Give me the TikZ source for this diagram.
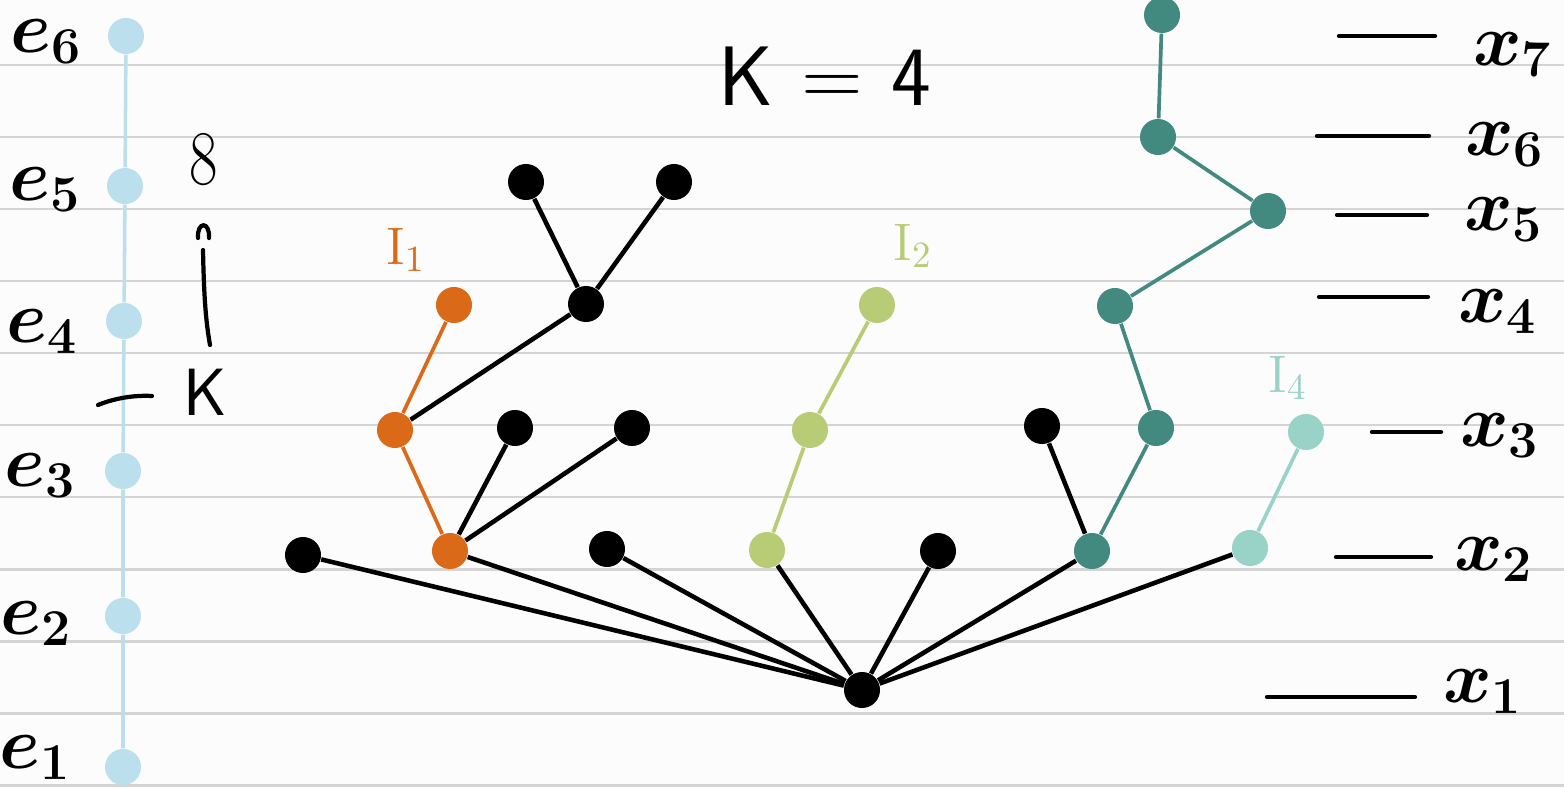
\RequirePackage{fix-cm}
\documentclass[tikz,border=0pt]{standalone}
\begin{document}
\definecolor{paper}{HTML}{FCFCFC}
\definecolor{ruleline}{HTML}{D4D4D4}
\definecolor{lightblue}{HTML}{BCDFEE}
\definecolor{ochre}{HTML}{DA6A18}
\definecolor{leaf}{HTML}{B8CB75}
\definecolor{teal}{HTML}{428A80}
\definecolor{mint}{HTML}{99D2C7}
\begin{tikzpicture}[x=0.01cm,y=-0.01cm,
  rulestroke/.style={ruleline,line width=0.85pt},
  dot/.style={circle,inner sep=0pt,minimum size=0.36cm},
  bdot/.style={dot,fill=black},
  edot/.style={dot,fill=lightblue},
  odot/.style={dot,fill=ochre},
  gdot/.style={dot,fill=leaf},
  tdot/.style={dot,fill=teal},
  mdot/.style={dot,fill=mint},
  blk/.style={black,line width=1.3pt},
  colored/.style={line width=1.05pt},
  ink/.style={black,line width=1.2pt,line cap=round},
  lbl/.style={inner sep=0pt,font=\fontsize{21}{25}\selectfont\boldmath},
  ilbl/.style={inner sep=0pt,font=\fontsize{15}{18}\selectfont}]
% paper and ruled lines
\fill[paper] (0,0) rectangle (1564,788);
\useasboundingbox (0,0) rectangle (1564,788);
\foreach \y in {65,137,...,785} \draw[rulestroke] (0,\y) -- (1564,\y);

% ladder of e-nodes
\node[edot] (e6) at (126,36) {};
\node[edot] (e5) at (125,186) {};
\node[edot] (e4) at (124,321) {};
\node[edot] (e3) at (123,471) {};
\node[edot] (e2) at (123,616) {};
\node[edot] (e1) at (123,767) {};
\draw[lightblue,line width=1pt] (e6) -- (e5) -- (e4) -- (e3) -- (e2) -- (e1);
\node[lbl] (le6) at (46,42) {$e_6$};
\node[lbl] (le5) at (45,190) {$e_5$};
\node[lbl] (le4) at (42,332) {$e_4$};
\node[lbl] (le3) at (40,476) {$e_3$};
\node[lbl] (le2) at (36,624) {$e_2$};
\node[lbl] (le1) at (35,758) {$e_1$};

% side notes
\node[inner sep=0pt,font=\fontsize{22}{26}\selectfont,xscale=0.8] (eight) at (204,160) {8};
\draw[ink] (198,238) .. controls (197,221) and (210,221) .. (209,238);
\draw[ink] (203,250) .. controls (204,300) and (206,322) .. (210,345);
\draw[ink] (98,405) .. controls (115,398) and (135,395) .. (152,396);
\node[inner sep=0pt,font=\sffamily\fontsize{19}{22}\selectfont] (kk) at (205,392) {K};

% title
\node[inner sep=0pt,font=\sffamily\fontsize{24}{28}\selectfont] (title) at (825,76) {K\,\,=\,\,4};

% tree nodes
\node[bdot] (r)  at (862,690) {};
\node[bdot] (b1) at (526,182) {};
\node[bdot] (b2) at (674,182) {};
\node[bdot] (b3) at (586,304) {};
\node[bdot] (b4) at (515,428) {};
\node[bdot] (b5) at (632,428) {};
\node[bdot] (b6) at (303,555) {};
\node[bdot] (b7) at (607,549) {};
\node[bdot] (b8) at (938,551) {};
\node[bdot] (b9) at (1042,426) {};
\node[odot] (o1) at (454,305) {};
\node[odot] (o2) at (395,430) {};
\node[odot] (o3) at (450,551) {};
\node[gdot] (g1) at (877,305) {};
\node[gdot] (g2) at (810,430) {};
\node[gdot] (g3) at (767,550) {};
\node[tdot] (t7) at (1162,15) {};
\node[tdot] (t6) at (1158,137) {};
\node[tdot] (t5) at (1268,211) {};
\node[tdot] (t4) at (1115,306) {};
\node[tdot] (t3) at (1156,428) {};
\node[tdot] (t2) at (1092,551) {};
\node[mdot] (m1) at (1306,432) {};
\node[mdot] (m2) at (1250,548) {};

% edges
\foreach \n in {b6,o3,b7,g3,b8,t2,m2} \draw[blk] (r) -- (\n);
\draw[blk] (b1) -- (b3);
\draw[blk] (b2) -- (b3);
\draw[blk] (b3) -- (o2);
\draw[blk] (b4) -- (o3);
\draw[blk] (b5) -- (o3);
\draw[blk] (b9) -- (t2);
\draw[colored,ochre] (o1) -- (o2) -- (o3);
\draw[colored,leaf] (g1) -- (g2) -- (g3);
\draw[colored,teal] (t7) -- (t6) -- (t5) -- (t4) -- (t3) -- (t2);
\draw[colored,mint] (m1) -- (m2);

% group labels
\node[ilbl,text=ochre] (i1) at (406,250) {$\mathrm{I}_1$};
\node[ilbl,text=leaf] (i2) at (913,246) {$\mathrm{I}_2$};
\node[ilbl,text=mint] (i4) at (1288,378) {$\mathrm{I}_4$};

% level marks on the right
\coordinate (a7) at (1339,36);  \coordinate (z7) at (1435,36);
\coordinate (a6) at (1317,136); \coordinate (z6) at (1429,136);
\coordinate (a5) at (1337,215); \coordinate (z5) at (1427,215);
\coordinate (a4) at (1319,297); \coordinate (z4) at (1428,297);
\coordinate (a3) at (1372,432); \coordinate (z3) at (1441,432);
\coordinate (a2) at (1336,557); \coordinate (z2) at (1431,557);
\coordinate (a1) at (1267,697); \coordinate (z1) at (1415,697);
\foreach \k in {1,...,7} \draw[ink] (a\k) -- (z\k);
\node[lbl] (x7) at (1513,55) {$x_7$};
\node[lbl] (x6) at (1505,145) {$x_6$};
\node[lbl] (x5) at (1504,220) {$x_5$};
\node[lbl] (x4) at (1498,312) {$x_4$};
\node[lbl] (x3) at (1500,436) {$x_3$};
\node[lbl] (x2) at (1494,560) {$x_2$};
\node[lbl] (x1) at (1483,692) {$x_1$};
\end{tikzpicture}
\end{document}
